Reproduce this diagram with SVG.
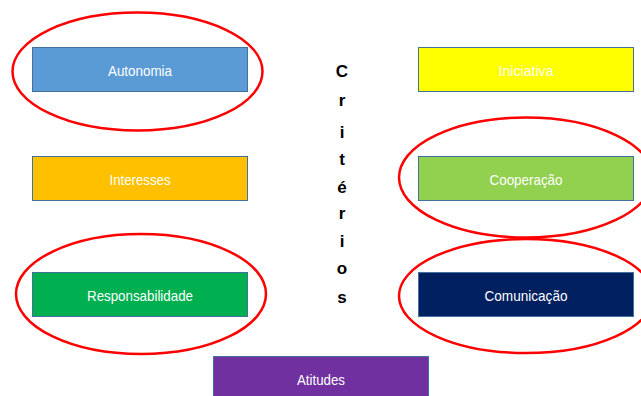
<svg xmlns="http://www.w3.org/2000/svg" width="641" height="396" viewBox="0 0 641 396">
  <style>
    .box { stroke: #41719C; stroke-width: 1; }
    .lbl { font-family: "Liberation Sans", Arial, sans-serif; font-size: 15px; fill: #FFFFFF; text-anchor: middle; }
    .ring { fill: none; stroke: #FF0000; stroke-width: 2.5; }
    .title { font-family: "Liberation Sans", Arial, sans-serif; font-size: 17px; font-weight: bold; fill: #000000; text-anchor: middle; }
  </style>
  <rect width="641" height="396" fill="#FFFFFF"/>

  <!-- condensed labels: textLength squeezes the glyphs to a narrow face -->
  <g id="autonomia">
    <rect class="box" x="32.5" y="47.5" width="215" height="44" fill="#5B9BD5"/>
    <text class="lbl" x="140" y="76" textLength="64" lengthAdjust="spacingAndGlyphs">Autonomia</text>
  </g>
  <g id="interesses">
    <rect class="box" x="32.5" y="156.5" width="215" height="44" fill="#FFC000"/>
    <text class="lbl" x="140" y="185" textLength="61" lengthAdjust="spacingAndGlyphs">Interesses</text>
  </g>
  <g id="responsabilidade">
    <rect class="box" x="32.5" y="272.5" width="215" height="44" fill="#00B050"/>
    <text class="lbl" x="140" y="301" textLength="106" lengthAdjust="spacingAndGlyphs">Responsabilidade</text>
  </g>
  <g id="iniciativa">
    <rect class="box" x="418.5" y="47.5" width="215" height="44" fill="#FFFF00"/>
    <text class="lbl" x="526" y="76" textLength="55" lengthAdjust="spacingAndGlyphs">Iniciativa</text>
  </g>
  <g id="cooperacao">
    <rect class="box" x="418.5" y="156.5" width="215" height="44" fill="#92D050"/>
    <text class="lbl" x="526" y="185" textLength="73" lengthAdjust="spacingAndGlyphs">Cooperação</text>
  </g>
  <g id="comunicacao">
    <rect class="box" x="418.5" y="272.5" width="215" height="44" fill="#002060"/>
    <text class="lbl" x="526" y="301" textLength="83" lengthAdjust="spacingAndGlyphs">Comunicação</text>
  </g>
  <g id="atitudes">
    <rect class="box" x="213.5" y="356.5" width="215" height="44" fill="#7030A0"/>
    <text class="lbl" x="321" y="385" textLength="48" lengthAdjust="spacingAndGlyphs">Atitudes</text>
  </g>

  <g id="criterios">
    <text class="title" x="342" y="77">C</text>
    <text class="title" x="342" y="106">r</text>
    <text class="title" x="342" y="138">i</text>
    <text class="title" x="342" y="165">t</text>
    <text class="title" x="342" y="193">é</text>
    <text class="title" x="342" y="219">r</text>
    <text class="title" x="342" y="247">i</text>
    <text class="title" x="342" y="274">o</text>
    <text class="title" x="342" y="303">s</text>
  </g>

  <g id="highlights">
    <ellipse class="ring" cx="137.5" cy="71.5" rx="125" ry="59"/>
    <ellipse class="ring" cx="141" cy="294" rx="125" ry="60"/>
    <ellipse class="ring" cx="526" cy="177.5" rx="127" ry="60"/>
    <ellipse class="ring" cx="526" cy="296" rx="127" ry="57"/>
  </g>
</svg>
